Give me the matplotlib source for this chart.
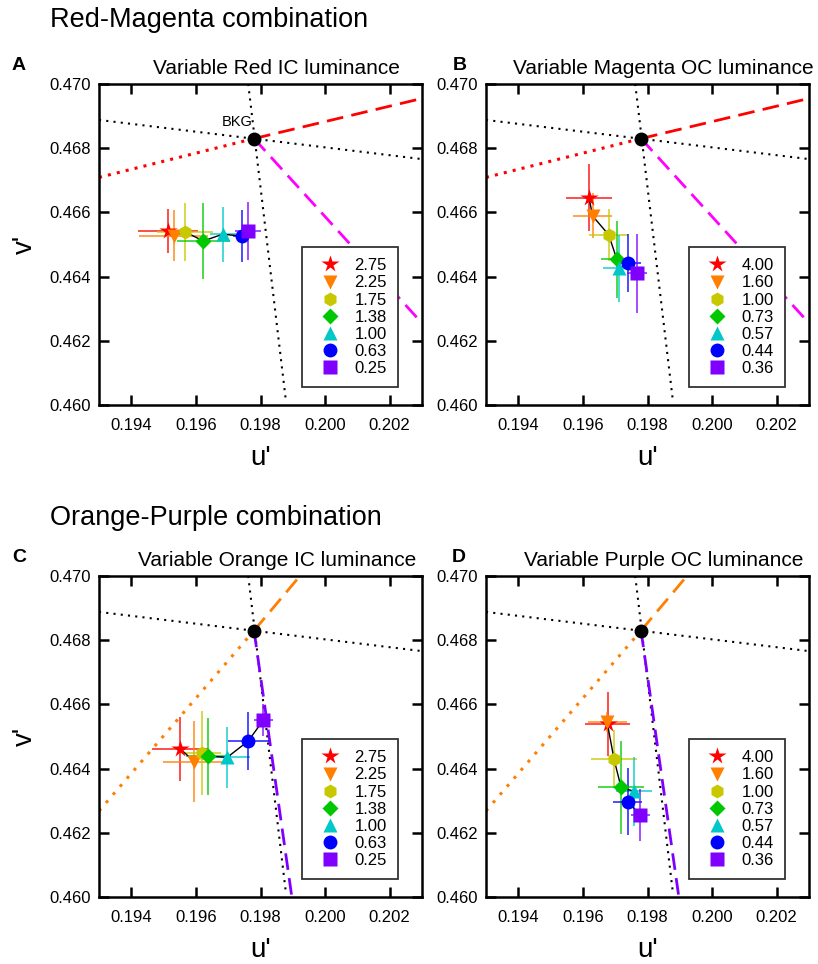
import numpy as np
import matplotlib
matplotlib.use('Agg')
import matplotlib.pyplot as plt

plt.rcParams['font.family'] = ['Liberation Sans', 'DejaVu Sans']

# background point
bkg_u, bkg_v = 0.1978, 0.4683

colors = ['#ff0000', '#ff7f00', '#c8c800', '#00c800', '#00c8c8', '#0000ff', '#7f00ff']
markers = ['*', 'v', 'h', 'D', '^', 'o', 's']

# panel A - variable Red IC luminance
labels_a = ['2.75', '2.25', '1.75', '1.38', '1.00', '0.63', '0.25']
u_a = [0.19513, 0.19532, 0.19567, 0.19623, 0.19683, 0.19744, 0.19762]
v_a = [0.46542, 0.46528, 0.46539, 0.46511, 0.46532, 0.46526, 0.46541]
uerr_a = [0.00092, 0.00107, 0.00087, 0.00083, 0.00040, 0.00030, 0.00040]
verr_a = [0.00070, 0.00080, 0.00090, 0.00117, 0.00085, 0.00080, 0.00090]

# panel B - variable Magenta OC luminance
labels_b = ['4.00', '1.60', '1.00', '0.73', '0.57', '0.44', '0.36']
u_b = [0.19619, 0.19630, 0.19680, 0.19705, 0.19713, 0.19739, 0.19767]
v_b = [0.46646, 0.46589, 0.46530, 0.46454, 0.46426, 0.46443, 0.46410]
uerr_b = [0.00070, 0.00060, 0.00060, 0.00050, 0.00050, 0.00040, 0.00030]
verr_b = [0.00105, 0.00070, 0.00080, 0.00120, 0.00105, 0.00090, 0.00124]

# panel C - variable Orange IC luminance
labels_c = ['2.75', '2.25', '1.75', '1.38', '1.00', '0.63', '0.25']
u_c = [0.19551, 0.19595, 0.19618, 0.19638, 0.19697, 0.19762, 0.19809]
v_c = [0.46462, 0.46422, 0.46448, 0.46439, 0.46435, 0.46486, 0.46551]
uerr_c = [0.00088, 0.00098, 0.00060, 0.00070, 0.00070, 0.00063, 0.00030]
verr_c = [0.00100, 0.00127, 0.00130, 0.00120, 0.00095, 0.00090, 0.00050]

# panel D - variable Purple OC luminance
labels_d = ['4.00', '1.60', '1.00', '0.73', '0.57', '0.44', '0.36']
u_d = [0.19677, 0.19675, 0.19696, 0.19718, 0.19759, 0.19739, 0.19778]
v_d = [0.46538, 0.46545, 0.46431, 0.46342, 0.46329, 0.46297, 0.46255]
uerr_d = [0.00070, 0.00060, 0.00072, 0.00070, 0.00055, 0.00045, 0.00030]
verr_d = [0.00100, 0.00030, 0.00090, 0.00145, 0.00107, 0.00105, 0.00080]

# reference lines (u endpoints, v endpoints)
black_h = ([0.193, 0.203], [0.46888, 0.46766])
black_v = ([0.19762, 0.19879], [0.4700, 0.4601])
red_dot = ([0.193, bkg_u], [0.46709, bkg_v])
red_dash = ([bkg_u, 0.203], [bkg_v, 0.46955])
mag_dash = ([bkg_u, 0.203], [bkg_v, 0.46255])
org_dot = ([0.193, bkg_u], [0.46268, bkg_v])
org_dash = ([bkg_u, 0.19922], [bkg_v, 0.4700])
pur_dash = ([bkg_u, 0.19897], [bkg_v, 0.4600])

fig = plt.figure(figsize=(8.18, 9.64), dpi=100)
W, H = 818, 964
def make_ax(l, t, r, b):
    return fig.add_axes([l / W, 1 - b / H, (r - l) / W, (b - t) / H])

axA = make_ax(99, 84, 422, 405)
axB = make_ax(486, 84, 809, 405)
axC = make_ax(99, 576, 422, 897)
axD = make_ax(486, 576, 809, 897)

def draw_panel(ax, u, v, uerr, verr, labels, title, combo, ylab):
    ax.plot(*black_h, color='black', ls=(0, (1, 2.5)), lw=1.5, zorder=1)
    ax.plot(*black_v, color='black', ls=(0, (1, 2.5)), lw=1.5, zorder=1)
    if combo == 'rm':
        ax.plot(*red_dot, color='#ff0000', ls=(0, (1, 2)), lw=2.2, zorder=1)
        ax.plot(*red_dash, color='#ff0000', ls=(0, (6, 3)), lw=2, zorder=1)
        ax.plot(*mag_dash, color='#ff00ff', ls=(0, (6, 3)), lw=2, zorder=1)
    else:
        ax.plot(*org_dot, color='#ff7f00', ls=(0, (1, 2.5)), lw=2.2, zorder=1)
        ax.plot(*org_dash, color='#ff7f00', ls=(0, (6, 3)), lw=2, zorder=1)
        ax.plot(*pur_dash, color='#7f00ff', ls=(0, (6, 3)), lw=2, zorder=1)
    ax.plot(bkg_u, bkg_v, 'o', color='black', ms=9, zorder=6)

    for i in range(len(u)):
        ax.errorbar(u[i], v[i], xerr=uerr[i], yerr=verr[i], fmt='none',
                    ecolor=colors[i], elinewidth=1.4, alpha=0.7, zorder=2)
    ax.plot(u, v, color='black', lw=1, zorder=3)
    for i in range(len(u)):
        ms = 13 if markers[i] == '*' else 10
        if markers[i] == 'D':
            ms = 8.5
        ax.plot(u[i], v[i], marker=markers[i], color=colors[i], ms=ms, ls='none',
                mec='none', label=labels[i], zorder=4)

    ax.set_xlim(0.193, 0.203)
    ax.set_ylim(0.460, 0.470)
    ax.set_xticks([0.194, 0.196, 0.198, 0.200, 0.202])
    ax.set_yticks([0.460, 0.462, 0.464, 0.466, 0.468, 0.470])
    ax.set_xticklabels(['0.194', '0.196', '0.198', '0.200', '0.202'])
    ax.set_yticklabels(['0.460', '0.462', '0.464', '0.466', '0.468', '0.470'])
    ax.tick_params(direction='in', length=7, width=1.8, top=True, right=True,
                   labelsize=12)
    ax.tick_params(axis='x', pad=9)
    ax.tick_params(axis='y', pad=6)
    for s in ax.spines.values():
        s.set_linewidth(1.8)
    ax.text(0.5, -0.165, "u'", transform=ax.transAxes, ha='center', va='center', fontsize=20)
    if ylab:
        ax.text(-0.23, 0.5, "v'", transform=ax.transAxes, ha='center', va='center',
                rotation=90, fontsize=20)

    ax.text(0.55, 1 + 10 / 321, title, transform=ax.transAxes, ha='center',
            va='baseline', fontsize=15)

    leg = ax.legend(loc='lower right', bbox_to_anchor=(0.925, 0.056), fontsize=12,
                    frameon=True, fancybox=False, edgecolor='#333333', framealpha=1,
                    labelspacing=0.13, handletextpad=0.47, borderpad=0.65,
                    handlelength=2.05, borderaxespad=0)
    leg.get_frame().set_linewidth(1.3)

draw_panel(axA, u_a, v_a, uerr_a, verr_a, labels_a, 'Variable Red IC luminance', 'rm', True)
draw_panel(axB, u_b, v_b, uerr_b, verr_b, labels_b, 'Variable Magenta OC luminance', 'rm', False)
draw_panel(axC, u_c, v_c, uerr_c, verr_c, labels_c, 'Variable Orange IC luminance', 'op', True)
draw_panel(axD, u_d, v_d, uerr_d, verr_d, labels_d, 'Variable Purple OC luminance', 'op', False)

axA.text(0.19775, 0.4686, 'BKG', ha='right', va='bottom', fontsize=10.5)

# panel letters
for lx, ly, letter in [(12, 70, 'A'), (453, 70, 'B'), (12, 562, 'C'), (452, 562, 'D')]:
    fig.text(lx / W, 1 - ly / H, letter, ha='left', va='baseline', fontsize=14,
             fontweight='bold')

fig.text(50 / W, 1 - 20 / H, 'Red-Magenta combination', ha='left', va='center', fontsize=19.5)
fig.text(50 / W, 1 - 518 / H, 'Orange-Purple combination', ha='left', va='center', fontsize=19.5)

fig.savefig('out.png', dpi=100)
